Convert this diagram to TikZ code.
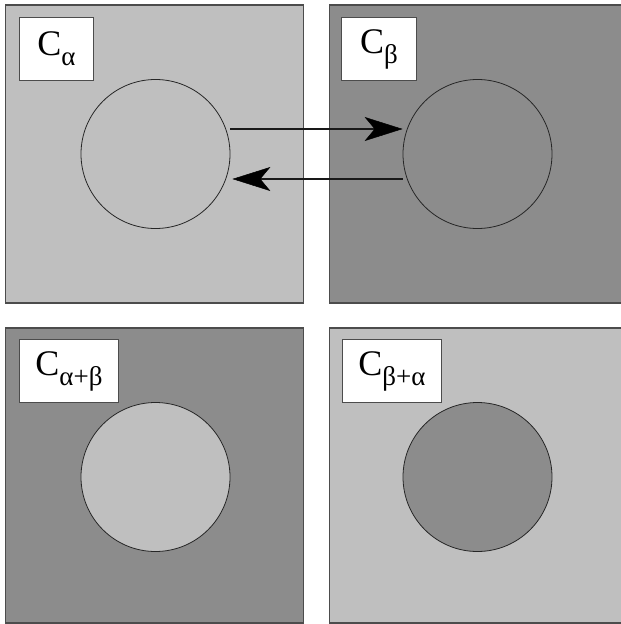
\documentclass[tikz,border=0pt]{standalone}
\usepackage{fontspec}
\setmainfont{Liberation Serif}
\usetikzlibrary{arrows.meta,calc}

\newcommand{\cname}[1]{{\fontsize{36}{36}\selectfont C}\raisebox{-10pt}{\fontsize{27}{27}\selectfont #1}}

\begin{document}
\begin{tikzpicture}[x=1pt,y=-1pt]
\tikzset{
square/.style={rectangle,draw=black!70,line width=1.2pt,minimum width=298pt,minimum height=298pt,inner sep=0pt},
light/.style={fill=black!25},
dark/.style={fill=black!45},
cell/.style={circle,draw=black!85,line width=0.8pt,minimum size=149pt,inner sep=0pt},
labelbox/.style={rectangle,draw=black!70,fill=white,line width=1pt,minimum height=63pt,inner sep=0pt,anchor=north west},
myarrow/.style={-{Stealth[length=38pt,width=24pt,inset=10pt,line width=0.5pt,black]},draw=black!90,line width=2.2pt},
}
\useasboundingbox (0,0) rectangle (621,624);

\node [square,light] (sqa) at (154.5,154) {};
\node [square,dark] (sqb) at (478.5,154) {};
\node [square,dark,minimum height=295pt] (sqab) at (154.5,475.5) {};
\node [square,light,minimum height=295pt] (sqba) at (478.5,475.5) {};

\node [cell,light] (ca) at (155.5,154) {};
\node [cell,dark] (cb) at (477.5,154) {};
\node [cell,light] (cab) at (155.5,477) {};
\node [cell,dark] (cba) at (477.5,477) {};

\node [labelbox,minimum width=74pt] (la) at (19,17) {\cname{α}};
\node [labelbox,minimum width=75pt] (lb) at (341,17) {\cname{β}};
\node [labelbox,minimum width=99pt] (lab) at (19,339) {\cname{α+β}};
\node [labelbox,minimum width=99pt] (lba) at (342,339) {\cname{β+α}};

\draw[myarrow] ($(ca.east)+(0,-25)$) -- ($(cb.west)+(0,-25)$);
\draw[myarrow] ($(cb.west)+(0,25)$) -- ($(ca.east)+(2,25)$);
\end{tikzpicture}
\end{document}
